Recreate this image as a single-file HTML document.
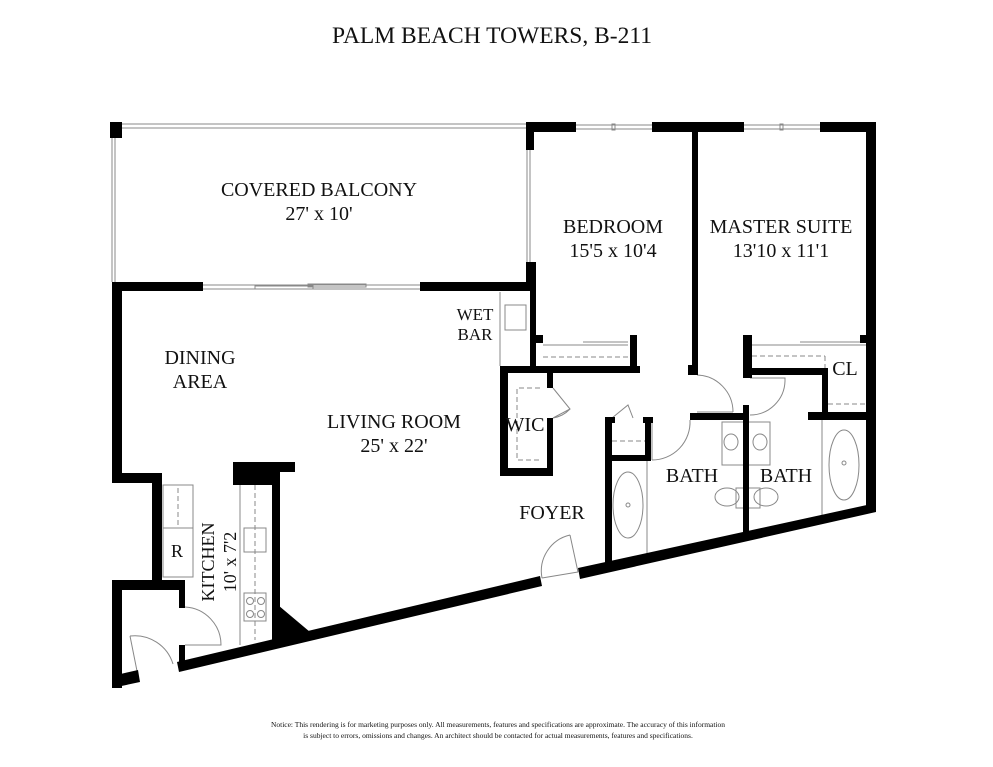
<!DOCTYPE html>
<html><head><meta charset="utf-8"><style>
html,body{margin:0;padding:0;background:#fff}
svg{display:block}
text{font-family:"Liberation Serif",serif;fill:#111}
</style></head><body>
<svg width="993" height="767" viewBox="0 0 993 767" xmlns="http://www.w3.org/2000/svg">
<text x="492" y="43" font-size="23.5" text-anchor="middle">PALM BEACH TOWERS, B-211</text>

<g fill="none" stroke="#888" stroke-width="1">
  <line x1="122" y1="124" x2="526" y2="124"/><line x1="122" y1="128" x2="526" y2="128"/>
  <line x1="112" y1="138" x2="112" y2="282"/><line x1="115" y1="138" x2="115" y2="282"/>
  <line x1="203" y1="285" x2="420" y2="285"/><line x1="203" y1="289" x2="420" y2="289"/>
  <rect x="255" y="286" width="58" height="3"/><rect x="308" y="284" width="58" height="3"/>
  <line x1="527" y1="150" x2="527" y2="262"/><line x1="530" y1="150" x2="530" y2="262"/>
  <line x1="576" y1="125" x2="652" y2="125"/><line x1="576" y1="129" x2="652" y2="129"/>
  <line x1="744" y1="125" x2="820" y2="125"/><line x1="744" y1="129" x2="820" y2="129"/>
  <rect x="612" y="124" width="3" height="6"/><rect x="780" y="124" width="3" height="6"/>
  <line x1="500" y1="292" x2="500" y2="366"/>
  <rect x="505" y="305" width="21" height="25"/>
  <line x1="543" y1="345" x2="628" y2="345"/><line x1="583" y1="342" x2="628" y2="342"/>
  <line x1="543" y1="357" x2="628" y2="357" stroke-dasharray="5,3"/>
  <line x1="752" y1="345" x2="866" y2="345"/><line x1="800" y1="342" x2="866" y2="342"/>
  <line x1="752" y1="356" x2="825" y2="356" stroke-dasharray="5,3"/>
  <line x1="825" y1="356" x2="825" y2="372" stroke-dasharray="5,3"/>
  <line x1="828" y1="404" x2="866" y2="404" stroke-dasharray="5,3"/>
  <polyline points="540,388 517,388 517,460 540,460" stroke-dasharray="5,3"/>
  <path d="M553 388 L570 409 L553 418 M553 418 A30 30 0 0 0 570 409"/>
  <path d="M697 375 A37 37 0 0 1 733 412 M697 412 L733 412"/>
  <path d="M750 378 L785 378 L785 381 M785 381 A35 35 0 0 1 750 415"/>
  <path d="M652 422 L652 460 M652 460 A38 38 0 0 0 690 420"/>
  <path d="M612 418 L628 405 L633 418"/>
  <line x1="612" y1="441" x2="645" y2="441" stroke-dasharray="5,3"/>
  <line x1="647" y1="460" x2="647" y2="560"/>
  <ellipse cx="628" cy="505" rx="15" ry="33"/><circle cx="628" cy="505" r="2"/>
  <line x1="822" y1="420" x2="822" y2="515"/>
  <ellipse cx="844" cy="465" rx="15" ry="35"/><circle cx="844" cy="463" r="2"/>
  <rect x="722" y="422" width="22" height="43"/><ellipse cx="731" cy="442" rx="7" ry="8"/>
  <rect x="748" y="422" width="22" height="43"/><ellipse cx="760" cy="442" rx="7" ry="8"/>
  <ellipse cx="727" cy="497" rx="12" ry="9"/><ellipse cx="766" cy="497" rx="12" ry="9"/>
  <rect x="736" y="488" width="24" height="20"/>
  <path d="M570 535 L578 572 M578 572 L542 578 M542 578 A37 37 0 0 1 570 535"/>
  <rect x="163" y="485" width="30" height="92"/>
  <line x1="178" y1="488" x2="178" y2="528" stroke-dasharray="5,3"/>
  <line x1="163" y1="528" x2="193" y2="528"/>
  <line x1="240" y1="485" x2="240" y2="645"/>
  <line x1="255" y1="485" x2="255" y2="640" stroke-dasharray="5,3"/>
  <rect x="244" y="528" width="22" height="24"/>
  <rect x="244" y="593" width="22" height="28"/>
  <circle cx="250" cy="601" r="3.5"/><circle cx="261" cy="601" r="3.5"/>
  <circle cx="250" cy="614" r="3.5"/><circle cx="261" cy="614" r="3.5"/>
  <path d="M185 607 A38 38 0 0 1 221 645 L185 645"/>
  <path d="M130 636 L138 676 M130 636 A40 40 0 0 1 173 664"/>
</g>

<g fill="#000">
  <rect x="110" y="122" width="12" height="16"/>
  <rect x="526" y="122" width="8" height="28"/>
  <rect x="112" y="282" width="91" height="9"/>
  <rect x="420" y="282" width="116" height="9"/>
  <rect x="526" y="262" width="8" height="28"/>
  <rect x="526" y="122" width="50" height="10"/>
  <rect x="652" y="122" width="92" height="10"/>
  <rect x="820" y="122" width="56" height="10"/>
  <rect x="866" y="122" width="10" height="390"/>
  <rect x="692" y="122" width="6" height="253"/>
  <rect x="688" y="365" width="10" height="10"/>
  <rect x="112" y="282" width="10" height="201"/>
  <rect x="112" y="473" width="50" height="10"/>
  <rect x="152" y="473" width="10" height="117"/>
  <rect x="112" y="580" width="72" height="10"/>
  <rect x="179" y="580" width="6" height="28"/>
  <rect x="112" y="580" width="10" height="108"/>
  <polygon points="112,676 138,670 140,682 112,688"/>
  <rect x="179" y="645" width="6" height="20"/>
  <rect x="233" y="462" width="62" height="10"/>
  <rect x="233" y="462" width="40" height="23"/>
  <rect x="272" y="462" width="8" height="150"/>
  <polygon points="272,600 310,632 280,640 272,640"/>
  <polygon points="177,662 540,576 542,586 179,672"/>
  <polygon points="578,568 876,503 876,512 580,579"/>
  <rect x="530" y="262" width="6" height="110"/>
  <rect x="500" y="366" width="140" height="7"/>
  <rect x="630" y="335" width="7" height="38"/>
  <rect x="536" y="335" width="7" height="8"/>
  <rect x="500" y="366" width="8" height="110"/>
  <rect x="500" y="468" width="53" height="8"/>
  <rect x="547" y="366" width="6" height="22"/>
  <rect x="547" y="418" width="6" height="58"/>
  <rect x="743" y="335" width="9" height="43"/>
  <rect x="743" y="368" width="85" height="7"/>
  <rect x="822" y="368" width="6" height="52"/>
  <rect x="860" y="335" width="8" height="8"/>
  <rect x="690" y="413" width="58" height="7"/>
  <rect x="808" y="412" width="60" height="8"/>
  <rect x="743" y="405" width="6" height="127"/>
  <rect x="605" y="417" width="10" height="6"/>
  <rect x="643" y="417" width="10" height="6"/>
  <rect x="605" y="417" width="7" height="150"/>
  <rect x="605" y="455" width="46" height="6"/>
  <rect x="645" y="417" width="6" height="44"/>
</g>

<g font-size="20" text-anchor="middle">
  <text x="319" y="196">COVERED BALCONY</text>
  <text x="319" y="220">27' x 10'</text>
  <text x="613" y="233">BEDROOM</text>
  <text x="613" y="257">15'5 x 10'4</text>
  <text x="781" y="233">MASTER SUITE</text>
  <text x="781" y="257">13'10 x 11'1</text>
  <text x="475" y="320" font-size="17">WET</text>
  <text x="475" y="340" font-size="17">BAR</text>
  <text x="200" y="364">DINING</text>
  <text x="200" y="388">AREA</text>
  <text x="394" y="428">LIVING ROOM</text>
  <text x="394" y="452">25' x 22'</text>
  <text x="525" y="431">WIC</text>
  <text x="845" y="375">CL</text>
  <text x="692" y="482">BATH</text>
  <text x="786" y="482">BATH</text>
  <text x="552" y="519">FOYER</text>
  <text x="177" y="557" font-size="18">R</text>
  <text transform="translate(214,562) rotate(-90)" font-size="18">KITCHEN</text>
  <text transform="translate(236,562) rotate(-90)" font-size="18">10' x 7'2</text>
</g>
<g font-size="7.5" text-anchor="middle">
  <text x="498" y="727">Notice: This rendering is for marketing purposes only. All measurements, features and specifications are approximate. The accuracy of this information</text>
  <text x="498" y="738">is subject to errors, omissions and changes. An architect should be contacted for actual measurements, features and specifications.</text>
</g>
</svg>
</body></html>
